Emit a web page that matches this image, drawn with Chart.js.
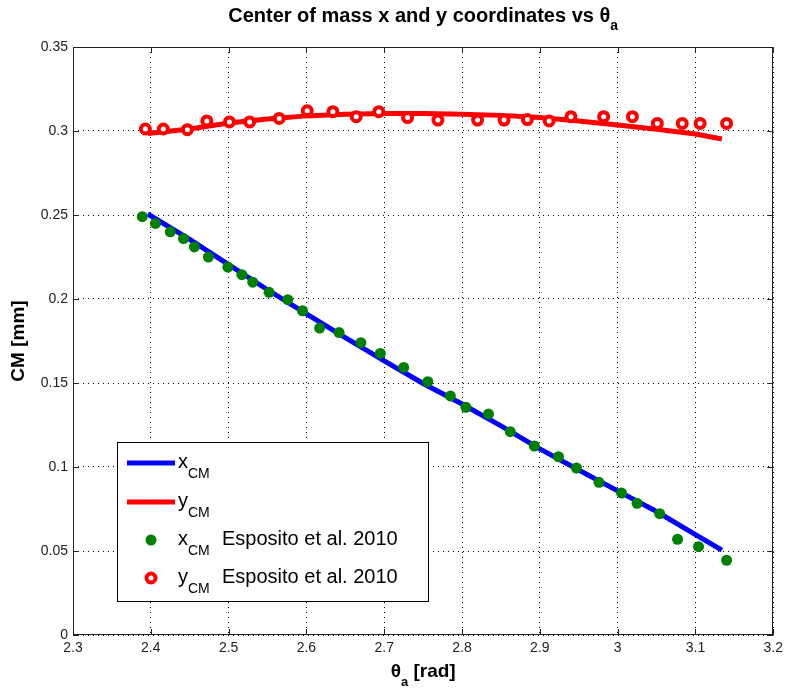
<!DOCTYPE html>
<html>
<head>
<meta charset="utf-8">
<title>Center of mass x and y coordinates</title>
<script src="https://cdn.jsdelivr.net/npm/chart.js@4.4.0/dist/chart.umd.min.js"></script>
<style>
  html, body { margin: 0; padding: 0; background: #fff; }
  #wrap { width: 788px; height: 692px; }
</style>
</head>
<body>
<div id="wrap"><canvas id="cmChart" width="788" height="692"></canvas></div>
<script>
// ==========================
// Data
// ==========================
// model curves (theta_a in rad, CM in mm)
const thetaLine = [2.396, 2.45, 2.5, 2.55, 2.6, 2.65, 2.7, 2.75, 2.8, 2.85, 2.9, 2.95, 3.0, 3.05, 3.1, 3.134];
const xCmLine = [0.2506, 0.2355, 0.2205, 0.2055, 0.1912, 0.177, 0.1632, 0.1497, 0.1375, 0.1245, 0.1108, 0.0982, 0.0858, 0.0735, 0.0598, 0.0505];
const yCmLine = [0.2985, 0.3012, 0.3048, 0.3072, 0.309, 0.31, 0.3104, 0.3104, 0.31, 0.3093, 0.308, 0.306, 0.3036, 0.301, 0.2982, 0.2952];

// Esposito et al. 2010 points
const thetaXEsp = [2.389, 2.406, 2.425, 2.442, 2.456, 2.474, 2.499, 2.517, 2.531, 2.552, 2.576, 2.595, 2.617, 2.642, 2.67, 2.695,
  2.725, 2.756, 2.785, 2.805, 2.834, 2.862, 2.893, 2.924, 2.947, 2.976, 3.005, 3.025, 3.054, 3.077, 3.104, 3.14];
const xCmEsp = [0.249, 0.245, 0.24, 0.236, 0.231, 0.225, 0.219, 0.2145, 0.21, 0.204, 0.1996, 0.193, 0.1827, 0.18, 0.174, 0.1676,
  0.1593, 0.1508, 0.1423, 0.1355, 0.1315, 0.121, 0.1125, 0.1061, 0.0994, 0.0909, 0.0845, 0.0784, 0.0722, 0.057, 0.0526, 0.0445];
const thetaYEsp = [2.393, 2.416, 2.447, 2.472, 2.501, 2.527, 2.565, 2.601, 2.634, 2.664, 2.693, 2.73, 2.769, 2.82, 2.854, 2.884,
  2.912, 2.94, 2.982, 3.019, 3.051, 3.083, 3.106, 3.14];
const yCmEsp = [0.3012, 0.3012, 0.3008, 0.306, 0.3054, 0.3054, 0.3075, 0.312, 0.3115, 0.3085, 0.3115, 0.308, 0.3065, 0.3065, 0.3065, 0.3068,
  0.306, 0.3085, 0.3085, 0.3085, 0.3045, 0.3045, 0.3045, 0.3045];

const xTickLabels = ["2.3", "2.4", "2.5", "2.6", "2.7", "2.8", "2.9", "3", "3.1", "3.2"];
const yTickLabels = ["0", "0.05", "0.1", "0.15", "0.2", "0.25", "0.3", "0.35"];

const toPts = (xs, ys) => xs.map((x, i) => ({ x: x, y: ys[i] }));

const FONT = "'Liberation Sans', Arial, Helvetica, sans-serif";

// ==========================
// MATLAB-ish decorations: box, inward ticks, titles, legend
// ==========================
const matlabDecor = {
  id: "matlabDecor",
  afterDraw(chart) {
    const ctx = chart.ctx;
    const a = chart.chartArea;
    const xs = chart.scales.x, ys = chart.scales.y;
    ctx.save();

    // axes box
    ctx.strokeStyle = "#222";
    ctx.lineWidth = 1;
    ctx.setLineDash([]);
    ctx.strokeRect(Math.round(a.left) + 0.5, Math.round(a.top) + 0.5,
      Math.round(a.right - a.left) - 1, Math.round(a.bottom - a.top) - 1);

    // inward tick marks
    const tl = 6;
    ctx.beginPath();
    xs.ticks.forEach(t => {
      const px = Math.round(xs.getPixelForValue(t.value)) + 0.5;
      ctx.moveTo(px, a.bottom); ctx.lineTo(px, a.bottom - tl);
      ctx.moveTo(px, a.top); ctx.lineTo(px, a.top + tl);
    });
    ys.ticks.forEach(t => {
      const py = Math.round(ys.getPixelForValue(t.value)) + 0.5;
      ctx.moveTo(a.left, py); ctx.lineTo(a.left + tl, py);
      ctx.moveTo(a.right, py); ctx.lineTo(a.right - tl, py);
    });
    ctx.stroke();

    const cx = (a.left + a.right) / 2;
    ctx.fillStyle = "#000";
    ctx.textBaseline = "alphabetic";
    ctx.textAlign = "left";

    // title with subscript
    const tMain = "Center of mass x and y coordinates vs \u03b8";
    ctx.font = "bold 20px " + FONT;
    const wMain = ctx.measureText(tMain).width;
    ctx.font = "bold 14px " + FONT;
    const wSub = ctx.measureText("a").width;
    let x0 = cx - (wMain + wSub) / 2;
    ctx.font = "bold 20px " + FONT;
    ctx.fillText(tMain, x0, 22);
    ctx.font = "bold 14px " + FONT;
    ctx.fillText("a", x0 + wMain, 30);

    // x axis title
    ctx.font = "bold 19px " + FONT;
    const wTh = ctx.measureText("\u03b8").width;
    const wRad = ctx.measureText(" [rad]").width;
    ctx.font = "bold 13px " + FONT;
    const wA = ctx.measureText("a").width;
    x0 = cx - (wTh + wA + wRad) / 2;
    ctx.font = "bold 19px " + FONT;
    ctx.fillText("\u03b8", x0, 677);
    ctx.fillText(" [rad]", x0 + wTh + wA, 677);
    ctx.font = "bold 13px " + FONT;
    ctx.fillText("a", x0 + wTh, 686);

    // y axis title
    ctx.save();
    ctx.translate(19, (a.top + a.bottom) / 2);
    ctx.rotate(-Math.PI / 2);
    ctx.textAlign = "center";
    ctx.textBaseline = "middle";
    ctx.font = "bold 19px " + FONT;
    ctx.fillText("CM [mm]", 0, 0);
    ctx.restore();

    // legend box
    const lx = 117, ly = 442, lw = 311, lh = 159;
    ctx.fillStyle = "#fff";
    ctx.fillRect(lx, ly, lw, lh);
    ctx.strokeStyle = "#000";
    ctx.strokeRect(lx + 0.5, ly + 0.5, lw, lh);

    const ds = chart.data.datasets;
    const rows = [
      { d: ds[0], main: "x", rest: "", y: 463 },
      { d: ds[1], main: "y", rest: "", y: 502 },
      { d: ds[2], main: "x", rest: "Esposito et al. 2010", y: 540 },
      { d: ds[3], main: "y", rest: "Esposito et al. 2010", y: 578 }
    ];
    rows.forEach(r => {
      if (r.d.showLine) {
        ctx.strokeStyle = r.d.borderColor;
        ctx.lineWidth = r.d.borderWidth;
        ctx.beginPath();
        ctx.moveTo(127, r.y); ctx.lineTo(175, r.y);
        ctx.stroke();
      } else {
        ctx.beginPath();
        ctx.arc(151, r.y, r.d.pointRadius, 0, Math.PI * 2);
        ctx.fillStyle = r.d.pointBackgroundColor;
        ctx.fill();
        if (r.d.pointBorderWidth > 0) {
          ctx.lineWidth = r.d.pointBorderWidth;
          ctx.strokeStyle = r.d.pointBorderColor;
          ctx.stroke();
        }
      }
      ctx.fillStyle = "#000";
      ctx.font = "20px " + FONT;
      ctx.fillText(r.main, 178, r.y + 5);
      const wm = ctx.measureText(r.main).width;
      ctx.font = "14px " + FONT;
      ctx.fillText("CM", 178 + wm, r.y + 15);
      if (r.rest) {
        ctx.font = "20px " + FONT;
        ctx.fillText(r.rest, 222, r.y + 5);
      }
    });

    ctx.restore();
  }
};

// ==========================
// Chart
// ==========================
const tickFont = { family: FONT, size: 14 };

const cmChart = new Chart(document.getElementById("cmChart").getContext("2d"), {
  type: "scatter",
  data: {
    datasets: [
      {
        label: "x_CM",
        data: toPts(thetaLine, xCmLine),
        showLine: true,
        borderColor: "#0000ff",
        borderWidth: 5,
        pointRadius: 0,
        tension: 0,
        order: 2
      },
      {
        label: "y_CM",
        data: toPts(thetaLine, yCmLine),
        showLine: true,
        borderColor: "#ff0000",
        borderWidth: 5,
        pointRadius: 0,
        tension: 0,
        order: 2
      },
      {
        label: "x_CM Esposito et al. 2010",
        data: toPts(thetaXEsp, xCmEsp),
        showLine: false,
        pointRadius: 5.5,
        pointBackgroundColor: "#008000",
        pointBorderColor: "#008000",
        pointBorderWidth: 0,
        order: 1
      },
      {
        label: "y_CM Esposito et al. 2010",
        data: toPts(thetaYEsp, yCmEsp),
        showLine: false,
        pointRadius: 4.5,
        pointBackgroundColor: "#ffffff",
        pointBorderColor: "#ff0000",
        pointBorderWidth: 4,
        order: 1
      }
    ]
  },
  options: {
    responsive: false,
    animation: false,
    events: [],
    layout: { padding: { top: 47, right: 11, left: 0, bottom: 0 } },
    plugins: {
      legend: { display: false },
      tooltip: { enabled: false },
      title: { display: false }
    },
    scales: {
      x: {
        type: "linear",
        min: 2.3,
        max: 3.2,
        afterBuildTicks: s => { s.ticks = xTickLabels.map(v => ({ value: parseFloat(v) })); },
        afterFit: s => { s.height = 57; },
        ticks: {
          callback: (v, i) => xTickLabels[i],
          padding: 5,
          maxRotation: 0,
          autoSkip: false,
          color: "#222",
          font: tickFont
        },
        grid: { color: "#000", lineWidth: 1, drawTicks: false },
        border: { display: false, dash: [1, 4] }
      },
      y: {
        type: "linear",
        min: 0,
        max: 0.35,
        afterBuildTicks: s => { s.ticks = yTickLabels.map(v => ({ value: parseFloat(v) })); },
        afterFit: s => { s.width = 73; },
        ticks: {
          callback: (v, i) => yTickLabels[i],
          padding: 5,
          autoSkip: false,
          color: "#222",
          font: tickFont
        },
        grid: { color: "#000", lineWidth: 1, drawTicks: false },
        border: { display: false, dash: [1, 4] }
      }
    }
  },
  plugins: [matlabDecor]
});
</script>
</body>
</html>
